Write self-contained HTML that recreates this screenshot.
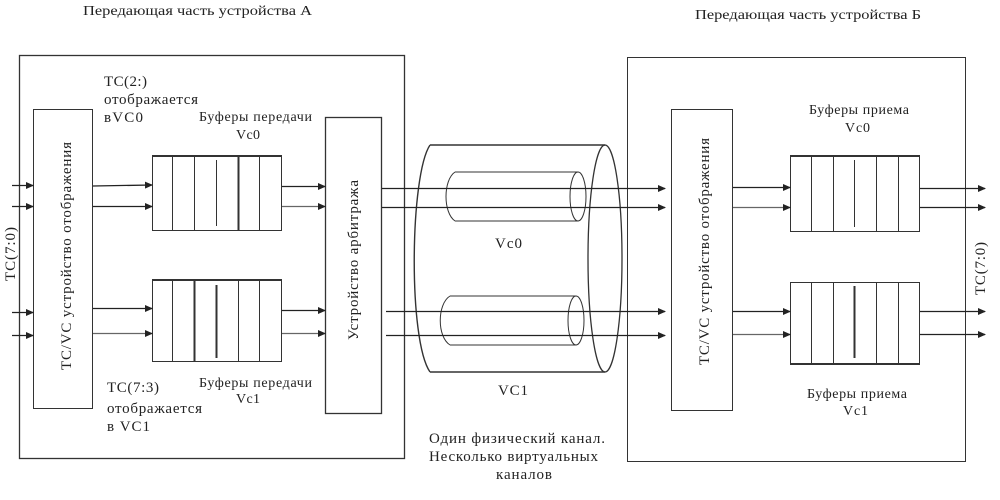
<!DOCTYPE html>
<html><head><meta charset="utf-8"><style>
html,body{margin:0;padding:0;background:#fff;}
svg{display:block;}
text{font-family:"Liberation Serif","DejaVu Serif",serif;fill:#222;}
</style></head><body>
<svg width="1000" height="500" viewBox="0 0 1000 500" xmlns="http://www.w3.org/2000/svg">
<defs>
<marker id="a" markerWidth="8" markerHeight="8" refX="7" refY="4" orient="auto" markerUnits="userSpaceOnUse">
<path d="M0,0.5 L8,4 L0,7.5 Z" fill="#222"/></marker>
</defs>
<g fill="none" stroke="#333" stroke-width="1">
<rect x="19.5" y="55.5" width="385" height="403" stroke-width="1.3"/>
<rect x="627.5" y="57.5" width="338" height="404"/>
<rect x="33.5" y="109.5" width="59" height="299"/>
<rect x="325.5" y="117.5" width="56" height="296" stroke-width="1.3"/>
<rect x="671.5" y="109.5" width="61" height="301"/>
<rect x="152.5" y="156.5" width="129" height="74"/>
<line x1="152" y1="156" x2="282" y2="156" stroke-width="2"/>
<path d="M172.5 156V230 M194.5 156V230 M259.5 156V230"/>
<line x1="238.5" y1="156" x2="238.5" y2="230" stroke-width="2"/>
<line x1="216.5" y1="160" x2="216.5" y2="226"/>
<rect x="152.5" y="280.5" width="129" height="81"/>
<line x1="152" y1="280" x2="282" y2="280" stroke-width="2"/>
<path d="M172.5 280V361 M238.5 280V361 M259.5 280V361"/>
<line x1="194.5" y1="280" x2="194.5" y2="361" stroke-width="2"/>
<line x1="216.5" y1="285" x2="216.5" y2="358" stroke-width="2"/>
<rect x="790.5" y="156.5" width="129" height="75"/>
<line x1="790" y1="156" x2="920" y2="156" stroke-width="2"/>
<path d="M811.5 156V231 M833.5 156V231 M876.5 156V231 M898.5 156V231"/>
<line x1="854.5" y1="160" x2="854.5" y2="227"/>
<rect x="790.5" y="282.5" width="129" height="82"/>
<line x1="790" y1="364" x2="920" y2="364" stroke-width="2"/>
<path d="M811.5 282V364 M833.5 282V364 M876.5 282V364 M898.5 282V364"/>
<line x1="854.5" y1="286" x2="854.5" y2="358" stroke-width="2"/>
<path d="M430 145 L605 145 M430 372 L605 372 M430 145 C410 175 408 340 430 372" stroke-width="1.4"/>
<ellipse cx="605" cy="258.5" rx="17" ry="113.5" stroke-width="1.3"/>
<path d="M455 172 L578 172 M455 221 L578 221 M455 172 C443 180 443 213 455 221"/>
<ellipse cx="578" cy="196.5" rx="8" ry="24.5"/>
<path d="M450 296 L576 296 M450 345 L576 345 M450 296 C437 304 437 337 450 345"/>
<ellipse cx="576" cy="320.5" rx="8" ry="24.5"/>
</g>
<g stroke="#222" stroke-width="1.3" marker-end="url(#a)">
<line x1="12" y1="185.5" x2="33" y2="185.5"/>
<line x1="12" y1="206.5" x2="33" y2="206.5"/>
<line x1="12" y1="312.5" x2="33" y2="312.5"/>
<line x1="12" y1="335.5" x2="33" y2="335.5"/>
<line x1="93" y1="186" x2="152" y2="185"/>
<line x1="93" y1="206.5" x2="152" y2="206.5"/>
<line x1="93" y1="308.5" x2="152" y2="308.5"/>
<line x1="93" y1="333.5" x2="152" y2="333.5" stroke="#666"/>
<line x1="282" y1="186.5" x2="325" y2="186.5"/>
<line x1="282" y1="206.5" x2="325" y2="206.5" stroke="#666"/>
<line x1="282" y1="310.5" x2="325" y2="310.5"/>
<line x1="282" y1="333.5" x2="325" y2="333.5" stroke="#666"/>
<line x1="382" y1="188.5" x2="665" y2="188.5"/>
<line x1="382" y1="207.5" x2="665" y2="207.5"/>
<line x1="386" y1="311.5" x2="665" y2="311.5"/>
<line x1="386" y1="335.5" x2="665" y2="335.5"/>
<line x1="733" y1="187.5" x2="790" y2="187.5"/>
<line x1="733" y1="207.5" x2="790" y2="207.5" stroke="#666"/>
<line x1="733" y1="311.5" x2="790" y2="311.5"/>
<line x1="733" y1="334.5" x2="790" y2="334.5" stroke="#666"/>
<line x1="920" y1="188.5" x2="985" y2="188.5"/>
<line x1="920" y1="207.5" x2="985" y2="207.5"/>
<line x1="920" y1="311.5" x2="985" y2="311.5"/>
<line x1="920" y1="334.5" x2="985" y2="334.5"/>
</g>
<g font-size="15" lengthAdjust="spacing">
<text x="83" y="15" font-size="14" textLength="229" lengthAdjust="spacingAndGlyphs">Передающая часть устройства А</text>
<text x="695" y="19" font-size="14" textLength="226" lengthAdjust="spacingAndGlyphs">Передающая часть устройства Б</text>
<text x="104" y="86" textLength="43">TC(2:)</text>
<text x="104" y="104" textLength="94">отображается</text>
<text x="104" y="122" textLength="39">вVC0</text>
<text x="199" y="121" font-size="14" textLength="113">Буферы передачи</text>
<text x="236" y="139" font-size="14" textLength="24">Vc0</text>
<text x="107" y="392" textLength="52">TC(7:3)</text>
<text x="107" y="413" textLength="95">отображается</text>
<text x="107" y="431" textLength="43">в VC1</text>
<text x="199" y="387" font-size="14" textLength="113">Буферы передачи</text>
<text x="236" y="403" font-size="14" textLength="24">Vc1</text>
<text x="809" y="114" font-size="14" textLength="100">Буферы приема</text>
<text x="845" y="132" font-size="14" textLength="25">Vc0</text>
<text x="807" y="398" font-size="14" textLength="100">Буферы приема</text>
<text x="843" y="415" font-size="14" textLength="25">Vc1</text>
<text x="495" y="248" textLength="27">Vc0</text>
<text x="498" y="395" textLength="30">VC1</text>
<text x="429" y="443" textLength="176">Один физический канал.</text>
<text x="429" y="461" textLength="169">Несколько виртуальных</text>
<text x="496" y="479" textLength="56">каналов</text>
<text transform="translate(15,281) rotate(-90)" textLength="54">TC(7:0)</text>
<text transform="translate(985,295) rotate(-90)" textLength="53">TC(7:0)</text>
<text transform="translate(71,370) rotate(-90)" textLength="228">TC/VC устройство отображения</text>
<text transform="translate(709,365) rotate(-90)" textLength="227">TC/VC устройство отображения</text>
<text transform="translate(358,340) rotate(-90)" textLength="160">Устройство арбитража</text>
</g>
</svg>
</body></html>
